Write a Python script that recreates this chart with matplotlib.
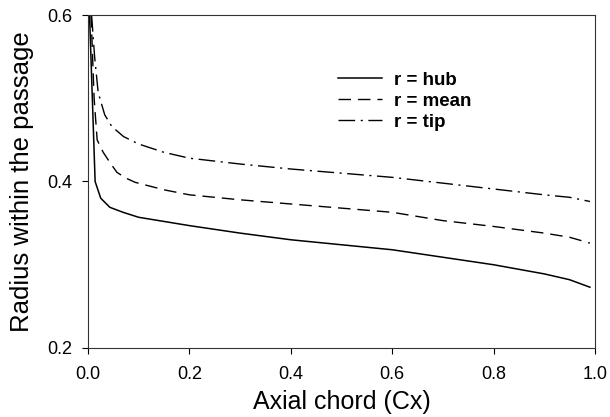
import matplotlib
matplotlib.use("Agg")
import matplotlib.pyplot as plt

plt.rcParams['font.family'] = ['Liberation Sans', 'DejaVu Sans']

x_hub = [0.003, 0.014, 0.025, 0.043, 0.069, 0.1, 0.15, 0.2, 0.3, 0.4, 0.5, 0.6, 0.7, 0.8, 0.9, 0.95, 0.99]
r_hub = [0.600, 0.400, 0.380, 0.369, 0.363, 0.357, 0.352, 0.347, 0.338, 0.330, 0.324, 0.318, 0.309, 0.300, 0.289, 0.282, 0.273]

x_mean = [0.006, 0.012, 0.018, 0.03, 0.043, 0.057, 0.075, 0.093, 0.15, 0.2, 0.3, 0.4, 0.5, 0.6, 0.7, 0.8, 0.9, 0.95, 0.99]
r_mean = [0.600, 0.500, 0.450, 0.435, 0.423, 0.411, 0.404, 0.399, 0.390, 0.384, 0.378, 0.373, 0.368, 0.363, 0.353, 0.346, 0.338, 0.333, 0.326]

x_tip = [0.007, 0.013, 0.02, 0.033, 0.047, 0.07, 0.1, 0.15, 0.2, 0.3, 0.4, 0.5, 0.6, 0.7, 0.8, 0.9, 0.95, 0.99]
r_tip = [0.600, 0.550, 0.507, 0.480, 0.466, 0.454, 0.445, 0.435, 0.428, 0.421, 0.415, 0.410, 0.405, 0.398, 0.391, 0.384, 0.381, 0.376]

labels = ['r = hub', 'r = mean', 'r = tip']
x_ticks = [0.0, 0.2, 0.4, 0.6, 0.8, 1.0]
y_ticks = [0.2, 0.4, 0.6]

fig = plt.figure(figsize=(6.1, 4.17), dpi=100)
ax = fig.add_axes([0.1443, 0.1655, 0.8311, 0.7985])

ax.plot(x_hub, r_hub, color='black', lw=1.1, ls='-', label=labels[0])
ax.plot(x_mean, r_mean, color='black', lw=1.0, ls=(0, (9, 5)), label=labels[1])
ax.plot(x_tip, r_tip, color='black', lw=1.0, ls=(0, (12, 4, 1.5, 4)), label=labels[2])

ax.set_xlim(0, 1.0)
ax.set_ylim(0.2, 0.6)
ax.set_xticks(x_ticks)
ax.set_xticklabels([f"{v:.1f}" for v in x_ticks])
ax.set_yticks(y_ticks)
ax.set_yticklabels([f"{v:.1f}" for v in y_ticks])
ax.tick_params(axis='both', direction='out', length=4, width=0.8, labelsize=13)
ax.tick_params(axis='x', pad=9)
ax.tick_params(axis='y', pad=7)
for s in ax.spines.values():
    s.set_linewidth(0.8)
    s.set_color('#333333')

ax.set_xlabel('Axial chord (Cx)', fontsize=18, labelpad=5)
ax.set_ylabel('Radius within the passage', fontsize=18.5, labelpad=10)

leg = ax.legend(loc='upper left', bbox_to_anchor=(0.46, 0.88), frameon=False,
                prop={'weight': 'bold', 'size': 13.5}, handlelength=2.35,
                handletextpad=0.64, labelspacing=0.2)

fig.savefig('out.png', dpi=100)
